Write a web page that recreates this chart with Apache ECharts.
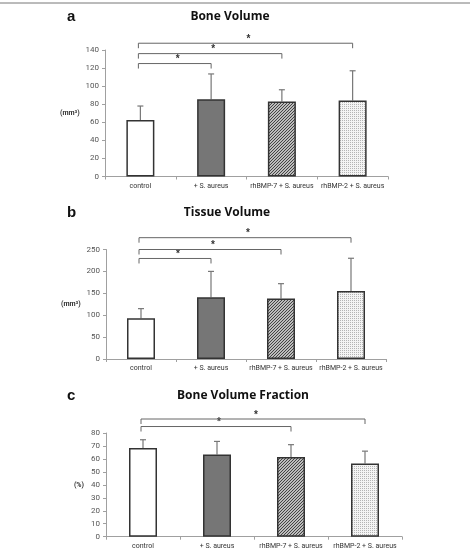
<!DOCTYPE html>
<html>
<head>
<meta charset="utf-8">
<script src="https://cdn.jsdelivr.net/npm/echarts@6/dist/echarts.min.js"></script>
<style>html,body{margin:0;padding:0;background:#fff}#c{width:472px;height:551px}</style>
</head>
<body>
<div id="c"></div>
<script>
// groups on every panel
const groups = ["control", "+ S. aureus", "rhBMP-7 + S. aureus", "rhBMP-2 + S. aureus"];

// panel a: bone volume (mm3)
const bvMean = [62.5, 85.5, 83, 84];
const bvSd = [15.5, 28, 13, 33];
// [from, to, height] significance brackets
const bvSig = [[0, 1, 125], [0, 2, 136], [0, 3, 147.5]];

// panel b: tissue volume (mm3)
const tvMean = [93, 141, 138, 155];
const tvSd = [22, 59, 34, 75];
const tvSig = [[0, 1, 229.5], [0, 2, 250], [0, 3, 277]];

// panel c: bone volume fraction (%)
const bvfMean = [68.5, 63.5, 61.5, 56.5];
const bvfSd = [6.3, 10, 9.5, 9.5];
const bvfSig = [[0, 2, 85], [0, 3, 90.8]];

const titles = ["Bone Volume", "Tissue Volume", "Bone Volume Fraction"];
const letters = ["a", "b", "c"];
const units = ["(mm\u00b3)", "(mm\u00b3)", "(%)"];

function pattern(kind) {
  const cv = document.createElement("canvas");
  const ctx = cv.getContext("2d");
  if (kind === "hatch") {
    cv.width = 3; cv.height = 3;
    ctx.fillStyle = "#f2f2f2"; ctx.fillRect(0, 0, 3, 3);
    ctx.strokeStyle = "#3a3a3a"; ctx.lineWidth = 1.1;
    ctx.beginPath();
    ctx.moveTo(-1, 4); ctx.lineTo(4, -1);
    ctx.moveTo(-1, 1); ctx.lineTo(1, -1);
    ctx.moveTo(2, 4); ctx.lineTo(4, 2);
    ctx.stroke();
  } else {
    cv.width = 2; cv.height = 2;
    ctx.fillStyle = "#f4f4f4"; ctx.fillRect(0, 0, 2, 2);
    ctx.fillStyle = "#b4b4b4"; ctx.fillRect(0, 0, 1, 1);
  }
  return { image: cv, repeat: "repeat" };
}
const fills = ["#ffffff", "#767676", pattern("hatch"), pattern("dots")];

const panels = [
  { mean: bvMean, sd: bvSd, sig: bvSig, max: 140, step: 20, grid: { left: 105, right: 84, top: 50, height: 126.5 }, titleY: 6 },
  { mean: tvMean, sd: tvSd, sig: tvSig, max: 250, step: 50, grid: { left: 106, right: 86, top: 249.5, height: 109.5 }, titleY: 202 },
  { mean: bvfMean, sd: bvfSd, sig: bvfSig, max: 80, step: 10, grid: { left: 106, right: 70, top: 433, height: 103.7 }, titleY: 385 }
];
const titleX = [225, 222, 238];

const axisFont = "Roboto, 'Liberation Sans', sans-serif";
const grid = [], xAxis = [], yAxis = [], series = [], title = [];

panels.forEach((p, k) => {
  grid.push(p.grid);
  title.push({ text: titles[k], left: titleX[k], top: p.titleY, textAlign: "center",
    textStyle: { fontSize: 12, fontWeight: "bold", color: "#111", fontFamily: "'Open Sans', sans-serif" } });
  title.push({ text: letters[k], left: 62, top: p.titleY - 2,
    textStyle: { fontSize: 15, fontWeight: "bold", color: "#111", fontFamily: "'Liberation Sans', sans-serif" } });
  xAxis.push({ type: "category", gridIndex: k, data: groups,
    axisLine: { lineStyle: { color: "#a0a0a0", width: 1 } },
    axisTick: { show: true, length: 3, lineStyle: { color: "#a0a0a0" } },
    axisLabel: { color: "#333", fontSize: 7, fontFamily: axisFont, margin: 6, interval: 0 } });
  yAxis.push({ type: "value", gridIndex: k, min: 0, max: p.max, interval: p.step,
    name: units[k], nameLocation: "middle", nameRotate: 0, nameGap: 22,
    nameTextStyle: { fontSize: 7, fontWeight: "bold", color: "#333", fontFamily: axisFont, align: "right" },
    splitLine: { show: false },
    axisLine: { show: true, lineStyle: { color: "#a0a0a0" } },
    axisTick: { show: true, length: 3, lineStyle: { color: "#a0a0a0" } },
    axisLabel: { color: "#555", fontSize: 8, fontFamily: axisFont, margin: 6 } });

  // error bars (upper only)
  series.push({
    type: "custom", xAxisIndex: k, yAxisIndex: k, z: 1,
    data: p.mean.map((m, i) => [i, m, m + p.sd[i]]),
    renderItem: (params, api) => {
      const a = api.coord([api.value(0), api.value(1)]);
      const b = api.coord([api.value(0), api.value(2)]);
      const st = { stroke: "#777", lineWidth: 1.2 };
      return { type: "group", children: [
        { type: "line", shape: { x1: a[0], y1: a[1], x2: b[0], y2: b[1] }, style: st },
        { type: "line", shape: { x1: b[0] - 3, y1: b[1], x2: b[0] + 3, y2: b[1] }, style: st }
      ] };
    }
  });

  series.push({
    type: "bar", xAxisIndex: k, yAxisIndex: k, z: 2, barWidth: 28,
    data: p.mean.map((m, i) => ({ value: m, itemStyle: { color: fills[i] } })),
    itemStyle: { borderColor: "#333", borderWidth: 1.5 }
  });

  // significance brackets with stars
  series.push({
    type: "custom", xAxisIndex: k, yAxisIndex: k, clip: false, z: 3,
    data: p.sig,
    renderItem: (params, api) => {
      const l = api.coord([api.value(0), api.value(2)]);
      const r = api.coord([api.value(1), api.value(2)]);
      const st = { stroke: "#666", lineWidth: 1 };
      const d = 5;
      return { type: "group", children: [
        { type: "polyline", shape: { points: [[l[0] - 2, l[1] + d], [l[0] - 2, l[1]], [r[0], r[1]], [r[0], r[1] + d]] }, style: Object.assign({ fill: null }, st) },
        { type: "text", x: (l[0] + r[0]) / 2 + 2, y: l[1] + 1, style: { text: "*", fontSize: 10, fontWeight: "bold", fill: "#333", align: "center", verticalAlign: "bottom", fontFamily: "'Liberation Sans', sans-serif" } }
      ] };
    }
  });
});

const chart = echarts.init(document.getElementById("c"), null, { renderer: "canvas" });
chart.setOption({
  backgroundColor: "#fff",
  animation: false,
  title, grid, xAxis, yAxis, series,
  graphic: [{ type: "line", shape: { x1: 0, y1: 3, x2: 470, y2: 3 }, style: { stroke: "#777", lineWidth: 1 } }]
});
</script>
</body>
</html>
